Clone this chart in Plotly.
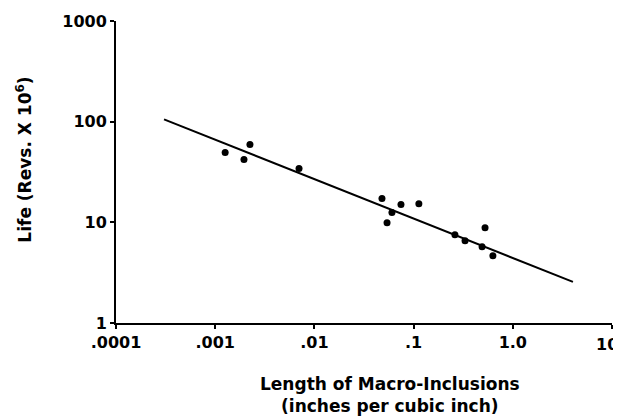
import plotly.graph_objects as go

# Data
inclusion_length = [0.00126, 0.00195, 0.00224, 0.0070, 0.048, 0.0605, 0.054,
                    0.0746, 0.113, 0.261, 0.330, 0.525, 0.490, 0.63]
life = [49.4, 42.1, 59.4, 34.3, 17.2, 12.5, 9.9,
        15.0, 15.3, 7.53, 6.56, 8.85, 5.72, 4.65]

fit_x = [0.000305, 4.04]
fit_y = [105.5, 2.56]

x_tickvals = [0.0001, 0.001, 0.01, 0.1, 1.0, 10]
x_ticktext = [".0001", ".001", ".01", ".1", "1.0", "10"]
y_tickvals = [1, 10, 100, 1000]
y_ticktext = ["1", "10", "100", "1000"]

font_family = "DejaVu Sans, Liberation Sans, sans-serif"

fig = go.Figure()
fig.add_trace(go.Scatter(x=fit_x, y=fit_y, mode="lines",
                         line=dict(color="black", width=2), showlegend=False,
                         hoverinfo="skip"))
fig.add_trace(go.Scatter(x=inclusion_length, y=life, mode="markers",
                         marker=dict(color="black", size=7), showlegend=False))

# last x tick label sits at the right edge; draw it as an annotation so it stays visible
shown_x_ticktext = x_ticktext[:-1] + [""]

# The page body has an 8px default margin, so the figure is sized/offset to compensate.
fig.update_layout(
    width=613, height=411,
    margin=dict(l=108, r=9, t=13, b=96, autoexpand=False),
    paper_bgcolor="white", plot_bgcolor="white",
    font=dict(family=font_family, color="black", size=16),
    xaxis=dict(type="log", range=[-4, 1], tickvals=x_tickvals, ticktext=shown_x_ticktext,
               showgrid=False, zeroline=False, showline=True, linecolor="black",
               linewidth=2, ticks="outside", ticklen=4, tickwidth=2, tickcolor="black",
               tickfont=dict(family=font_family, size=16, weight="bold"),
               ticklabeloverflow="allow", automargin=False),
    yaxis=dict(type="log", range=[0, 3], tickvals=y_tickvals, ticktext=y_ticktext,
               showgrid=False, zeroline=False, showline=True, linecolor="black",
               linewidth=2, ticks="outside", ticklen=4, tickwidth=2, tickcolor="black",
               tickfont=dict(family=font_family, size=16, weight="bold"),
               automargin=False),
    annotations=[
        dict(text=x_ticktext[-1], xref="paper", yref="paper", x=1, y=0,
             xanchor="right", yanchor="top", xshift=8, yshift=-10, showarrow=False,
             font=dict(family=font_family, size=16, weight="bold")),
        dict(text="Length of Macro-Inclusions<br>(inches per cubic inch)",
             xref="paper", yref="paper", x=0.552, y=-0.237,
             xanchor="center", yanchor="middle", showarrow=False,
             font=dict(family=font_family, size=17, weight="bold")),
        dict(text="Life (Revs. X 10<sup>6</sup>)",
             xref="paper", yref="paper", x=-0.186, y=0.54,
             xanchor="center", yanchor="middle", showarrow=False, textangle=-90,
             font=dict(family=font_family, size=17, weight="bold")),
    ],
)

fig.write_html("out.html")
